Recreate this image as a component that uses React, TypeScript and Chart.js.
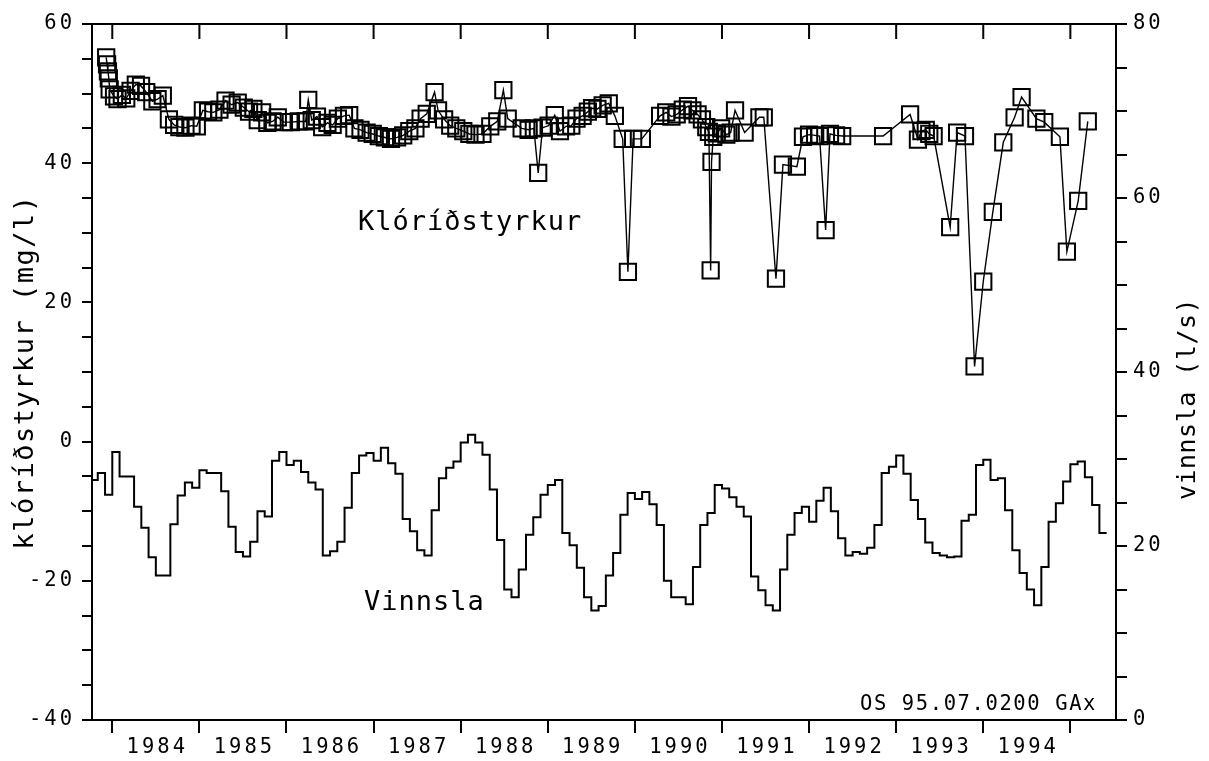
import React, { useEffect, useRef } from 'react';
import { Chart, registerables } from 'chart.js';

Chart.register(...registerables);

// ---- axis definitions ----
const xMin = 1983.767;
const xMax = 1995.524;
const yearTicks = [1984, 1985, 1986, 1987, 1988, 1989, 1990, 1991, 1992, 1993, 1994, 1995];
const yearLabels = ['1984', '1985', '1986', '1987', '1988', '1989', '1990', '1991', '1992', '1993', '1994'];
const leftLabels = [-40, -20, 0, 20, 40, 60];
const rightLabels = [0, 20, 40, 60, 80];

// ---- texts ----
const leftTitle = 'klóríðstyrkur (mg/l)';
const rightTitle = 'vinnsla (l/s)';
const clLabel = 'Klóríðstyrkur';
const vLabel = 'Vinnsla';
const stamp = 'OS 95.07.0200 GAx';

// ---- chloride concentration (mg/l), decimal year ----
const clDates = [
  1983.93, 1983.94, 1983.95, 1983.96, 1983.97, 1984.02, 1984.06, 1984.11, 1984.16, 1984.21,
  1984.27, 1984.33, 1984.39, 1984.46, 1984.52, 1984.58, 1984.65, 1984.71, 1984.77, 1984.84,
  1984.91, 1984.97, 1985.04, 1985.10, 1985.16, 1985.23, 1985.30, 1985.37, 1985.44, 1985.51,
  1985.57, 1985.62, 1985.67, 1985.72, 1985.78, 1985.84, 1985.90, 1985.97, 1986.05, 1986.14,
  1986.22, 1986.25, 1986.29, 1986.35, 1986.41, 1986.47, 1986.53, 1986.59, 1986.66, 1986.72,
  1986.78, 1986.85, 1986.92, 1986.99, 1987.06, 1987.13, 1987.20, 1987.27, 1987.34, 1987.41,
  1987.48, 1987.54, 1987.61, 1987.70, 1987.74, 1987.81, 1987.88, 1987.95, 1988.03, 1988.10,
  1988.17, 1988.25, 1988.34, 1988.42, 1988.49, 1988.54, 1988.70, 1988.78, 1988.84, 1988.89,
  1988.94, 1989.01, 1989.08, 1989.14, 1989.21, 1989.27, 1989.33, 1989.40, 1989.46, 1989.51,
  1989.57, 1989.63, 1989.70, 1989.77, 1989.86, 1989.92, 1989.98, 1990.08, 1990.29, 1990.36,
  1990.42, 1990.48, 1990.55, 1990.61, 1990.66, 1990.72, 1990.77, 1990.82, 1990.85, 1990.87,
  1990.88, 1990.90, 1990.94, 1990.99, 1991.05, 1991.10, 1991.15, 1991.26, 1991.43, 1991.48,
  1991.62, 1991.70, 1991.86, 1991.93, 1992.00, 1992.07, 1992.12, 1992.19, 1992.24, 1992.31,
  1992.38, 1992.85, 1993.16, 1993.25, 1993.29, 1993.34, 1993.38, 1993.43, 1993.62, 1993.70,
  1993.79, 1993.90, 1994.00, 1994.11, 1994.23, 1994.36, 1994.44, 1994.61, 1994.70, 1994.88,
  1994.96, 1995.09, 1995.20,
];
const clValues = [
  55.2, 54.2, 53.2, 52.2, 50.6, 49.6, 49.2, 49.8, 49.3, 50.4,
  51.3, 51.1, 50.2, 48.9, 49.2, 49.7, 46.3, 45.5, 45.2, 45.1,
  45.4, 45.3, 47.6, 47.4, 47.3, 47.7, 49.0, 48.4, 48.7, 48.0,
  47.4, 47.8, 46.2, 47.3, 45.8, 46.0, 46.6, 45.9, 45.9, 46.0,
  46.0, 49.1, 46.2, 46.7, 45.2, 45.8, 45.5, 46.4, 46.8, 46.9,
  45.0, 44.8, 44.4, 44.2, 43.9, 43.7, 43.5, 43.7, 44.0, 44.6,
  45.0, 46.4, 47.1, 50.2, 47.6, 46.3, 45.4, 45.0, 44.6, 44.2,
  44.1, 44.2, 45.3, 46.0, 50.5, 46.4, 45.0, 44.8, 45.0, 38.6,
  45.1, 45.4, 46.9, 44.6, 45.3, 45.4, 46.4, 46.8, 47.4, 47.9,
  47.8, 48.3, 48.6, 46.8, 43.5, 24.4, 43.5, 43.5, 46.8, 47.3,
  46.7, 47.0, 47.7, 48.2, 47.6, 47.0, 46.3, 45.2, 44.5, 24.6,
  40.2, 43.8, 44.3, 45.0, 44.1, 44.4, 47.6, 44.4, 46.6, 46.6,
  23.4, 39.8, 39.5, 43.8, 44.1, 44.0, 43.9, 30.4, 44.2, 44.0,
  43.9, 43.9, 47.0, 43.4, 44.6, 44.8, 44.2, 43.9, 30.8, 44.4,
  43.9, 10.8, 23.0, 33.0, 43.0, 46.6, 49.5, 46.4, 45.9, 43.8,
  27.3, 34.6, 46.0,
];

// ---- monthly abstraction (l/s), starting October 1983 ----
const vinnslaStartYear = 1983;
const vinnslaStartMonth = 10;
const vinnslaValues = [
  27.6, 28.4, 25.9,
  30.8, 28.0, 28.0, 24.5, 22.1, 18.7, 16.6, 16.6, 22.5, 25.8, 27.3, 26.7,
  28.7, 28.4, 28.4, 26.3, 22.2, 19.3, 18.8, 20.5, 24.0, 23.4, 29.8, 30.8,
  29.3, 29.8, 28.5, 27.3, 26.5, 18.9, 19.4, 20.5, 24.4, 28.4, 30.4, 30.7,
  29.8, 31.3, 29.5, 28.3, 23.1, 21.7, 19.5, 18.9, 24.1, 27.8, 29.0, 29.7,
  31.9, 32.8, 31.9, 30.5, 26.5, 20.7, 15.0, 14.1, 17.3, 21.3, 23.3, 25.9,
  27.0, 27.6, 21.5, 20.1, 17.5, 14.1, 12.6, 13.1, 16.6, 19.2, 23.6, 26.1,
  25.4, 26.2, 24.8, 22.4, 16.0, 14.1, 14.1, 13.3, 17.6, 22.4, 23.8, 27.0,
  26.6, 25.6, 24.5, 23.4, 16.5, 14.9, 13.2, 12.6, 17.3, 21.3, 23.8, 24.5,
  22.8, 25.2, 26.7, 24.0, 20.9, 18.9, 19.3, 19.1, 19.8, 22.4, 28.4, 29.1,
  30.4, 28.3, 25.3, 23.1, 20.4, 19.2, 18.9, 18.7, 18.8, 22.9, 23.6, 29.3,
  29.9, 27.6, 27.8, 24.1, 19.5, 16.9, 15.0, 13.2, 17.6, 22.8, 24.9, 27.4,
  29.4, 29.7, 27.9, 24.7, 21.5,
];

const FONT = '"DejaVu Sans Mono", "Liberation Mono", monospace';

function buildVinnsla() {
  const start = vinnslaStartYear + (vinnslaStartMonth - 1) / 12;
  const pts = vinnslaValues.map((v, i) => ({ x: start + i / 12, y: v }));
  // closing point so the last month is drawn as a full step
  pts.push({ x: start + vinnslaValues.length / 12, y: vinnslaValues[vinnslaValues.length - 1] });
  return pts;
}

const decorPlugin = {
  id: 'decor',
  beforeDraw(chart: any) {
    chart.ctx.letterSpacing = '3px';
  },
  afterDraw(chart: any) {
    const { ctx, chartArea, scales } = chart;
    ctx.save();
    ctx.strokeStyle = '#000';
    ctx.lineWidth = 2;
    ctx.beginPath();
    ctx.moveTo(chartArea.left - 1, chartArea.top);
    ctx.lineTo(chartArea.right + 1, chartArea.top);
    yearTicks.forEach((yr) => {
      const px = scales.x.getPixelForValue(yr);
      ctx.moveTo(px, chartArea.top);
      ctx.lineTo(px, chartArea.top + 15);
    });
    ctx.stroke();

    ctx.fillStyle = '#000';
    ctx.textBaseline = 'alphabetic';

    // left axis title
    ctx.font = `27px ${FONT}`;
    ctx.letterSpacing = '1.5px';
    ctx.textAlign = 'center';
    ctx.save();
    ctx.translate(33, (chartArea.top + chartArea.bottom) / 2);
    ctx.rotate(-Math.PI / 2);
    ctx.fillText(leftTitle, 0, 0);
    ctx.restore();

    // right axis title
    ctx.font = `25px ${FONT}`;
    ctx.letterSpacing = '0.5px';
    ctx.save();
    ctx.translate(1195, 399);
    ctx.rotate(-Math.PI / 2);
    ctx.fillText(rightTitle, 0, 0);
    ctx.restore();

    // in-chart series labels
    ctx.textAlign = 'left';
    ctx.font = `27px ${FONT}`;
    ctx.letterSpacing = '1px';
    ctx.fillText(clLabel, 358, 230);
    ctx.fillText(vLabel, 364, 610);

    ctx.font = `20.5px ${FONT}`;
    ctx.letterSpacing = '1.6px';
    ctx.fillText(stamp, 860, 710);

    ctx.restore();
    ctx.letterSpacing = '0px';
  },
};

export default function App() {
  const ref = useRef<HTMLCanvasElement>(null);

  useEffect(() => {
    document.body.style.margin = '0';
    const canvas = ref.current;
    if (!canvas) return;

    const tickFont = { family: FONT, size: 20.5 };

    const chart = new Chart(canvas, {
      type: 'line',
      data: {
        datasets: [
          {
            label: clLabel,
            data: clDates.map((t, i) => ({ x: t, y: clValues[i] })),
            yAxisID: 'y',
            borderColor: '#000',
            borderWidth: 1.4,
            pointStyle: 'rect',
            pointRadius: 11.5,
            pointBorderWidth: 2,
            pointBorderColor: '#000',
            pointBackgroundColor: 'rgba(0,0,0,0)',
            tension: 0,
            fill: false,
          },
          {
            label: vLabel,
            data: buildVinnsla(),
            yAxisID: 'y2',
            borderColor: '#000',
            borderWidth: 2,
            stepped: 'before',
            pointRadius: 0,
            tension: 0,
            fill: false,
          },
        ],
      },
      options: {
        responsive: true,
        maintainAspectRatio: false,
        animation: false,
        events: [],
        layout: { padding: { top: 24, left: 0, right: 0, bottom: 0 } },
        plugins: {
          legend: { display: false },
          tooltip: { enabled: false },
        },
        scales: {
          x: {
            type: 'linear',
            position: 'bottom',
            min: xMin,
            max: xMax,
            afterBuildTicks: (s: any) => {
              s.ticks = yearTicks.map((v) => ({ value: v }));
            },
            afterFit: (s: any) => {
              s.height = 41;
            },
            ticks: {
              autoSkip: false,
              maxRotation: 0,
              minRotation: 0,
              labelOffset: 45,
              padding: 2,
              color: '#000',
              font: tickFont,
              callback: (_v: any, i: number) => yearLabels[i] ?? '',
            },
            grid: { drawOnChartArea: false, drawTicks: true, tickLength: 13, color: '#000', lineWidth: 2 },
            border: { display: true, color: '#000', width: 2 },
          },
          y: {
            type: 'linear',
            position: 'left',
            min: -40,
            max: 60,
            afterFit: (s: any) => {
              s.width = 92;
            },
            ticks: {
              stepSize: 5,
              autoSkip: false,
              padding: 7,
              color: '#000',
              font: tickFont,
              callback: (v: any) => (leftLabels.includes(Number(v)) ? String(v) : ''),
            },
            grid: { drawOnChartArea: false, drawTicks: true, tickLength: 10, color: '#000', lineWidth: 2 },
            border: { display: true, color: '#000', width: 2 },
          },
          y2: {
            type: 'linear',
            position: 'right',
            min: 0,
            max: 80,
            afterFit: (s: any) => {
              s.width = 93;
            },
            ticks: {
              stepSize: 5,
              autoSkip: false,
              padding: 6,
              color: '#000',
              font: tickFont,
              callback: (v: any) => (rightLabels.includes(Number(v)) ? String(v) : ''),
            },
            grid: { drawOnChartArea: false, drawTicks: true, tickLength: 11, color: '#000', lineWidth: 2 },
            border: { display: true, color: '#000', width: 2 },
          },
        },
      },
      plugins: [decorPlugin],
    } as any);

    return () => chart.destroy();
  }, []);

  return (
    <div style={{ position: 'relative', width: 1209, height: 761 }}>
      <canvas ref={ref} />
    </div>
  );
}
